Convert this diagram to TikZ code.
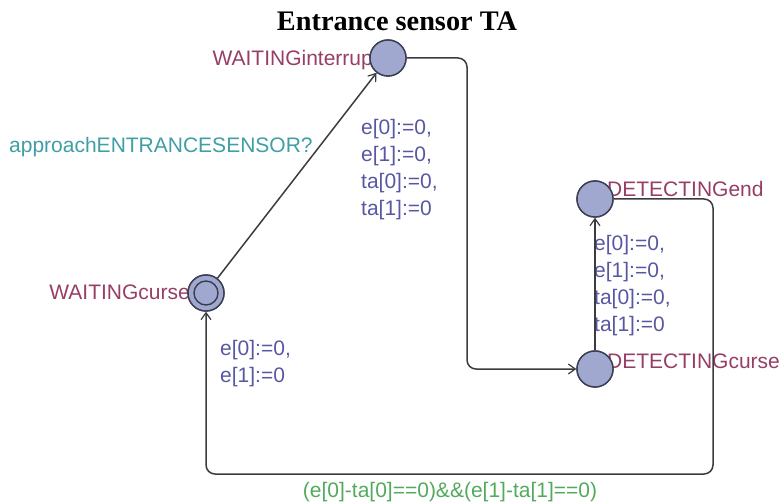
\documentclass[tikz,border=0pt]{standalone}
\usepackage{fontspec}
\setmainfont{Liberation Sans}
\newfontfamily\titlefont{Liberation Serif}
\usetikzlibrary{arrows.meta}
\definecolor{locname}{RGB}{150,62,102}
\definecolor{upd}{RGB}{88,88,162}
\definecolor{syncc}{RGB}{64,158,165}
\definecolor{guardc}{RGB}{82,170,92}
\definecolor{locfill}{RGB}{160,168,208}
\definecolor{locedge}{RGB}{58,62,82}
\definecolor{edgecol}{RGB}{60,60,64}
\begin{document}
\begin{tikzpicture}[x=1pt,y=-1pt,
  loc/.style={circle,draw=locedge,fill=locfill,line width=1.4pt,minimum size=36pt,inner sep=0pt},
  lbl/.style={inner sep=0pt,font=\fontsize{21}{27}\selectfont},
  edge/.style={draw=edgecol,line width=1.5pt,rounded corners=9pt,-{Straight Barb[length=7pt,width=10pt,line width=1.2pt]}}
]
\useasboundingbox (0,0) rectangle (784,502);
\node[anchor=base,inner sep=0pt,font=\titlefont\bfseries\fontsize{28.3}{30}\selectfont] (title) at (397,31) {Entrance sensor TA};

\node[lbl,text=locname,anchor=base east] (nWI) at (373,66) {WAITINGinterrup};
\node[lbl,text=locname,anchor=base west] (nDE) at (607,197) {DETECTINGend};
\node[lbl,text=locname,anchor=base west] (nDC) at (607,368) {DETECTINGcurse};
\node[lbl,text=locname,anchor=base east] (nWC) at (190,300) {WAITINGcurse};
\node[lbl,text=syncc,anchor=base west] (sync) at (9,153) {approachENTRANCESENSOR?};
\node[lbl,text=upd,anchor=base west,align=left] (u1) at (361,216) {e[0]:=0,\\e[1]:=0,\\ta[0]:=0,\\ta[1]:=0};
\node[lbl,text=upd,anchor=base west,align=left] (u2) at (594,331) {e[0]:=0,\\e[1]:=0,\\ta[0]:=0,\\ta[1]:=0};
\node[lbl,text=upd,anchor=base west,align=left] (u3) at (220,382) {e[0]:=0,\\e[1]:=0};
\node[lbl,text=guardc,anchor=base] (g) at (450,497) {(e[0]-ta[0]==0)\&\&(e[1]-ta[1]==0)};

\coordinate (WIp) at (388,58);
\coordinate (WCp) at (206,293);
\coordinate (DEp) at (595,199);
\coordinate (DCp) at (595,369);
\coordinate (b1) at (467,58);
\coordinate (b2) at (467,369);
\coordinate (c1) at (713,199);
\coordinate (c2) at (713,474);
\coordinate (c3) at (206,474);

\path (WIp) node[loc] (WI) {};
\path (WCp) node[loc] (WC) {};
\path (DEp) node[loc] (DE) {};
\path (DCp) node[loc] (DC) {};

\draw[edge] (WC) -- (WI);
\draw[edge] (WI.east) -- (b1) -- (b2) -- (DC.west);
\draw[edge] (DC) -- (DE);
\draw[edge] (DE.east) -- (c1) -- (c2) -- (c3) -- (WC.south);

\node[loc] (WI2) at (WIp) {};
\node[loc] (WC2) at (WCp) {};
\node[loc,minimum size=24pt] (WCi) at (WCp) {};
\node[loc] (DE2) at (DEp) {};
\node[loc] (DC2) at (DCp) {};
\end{tikzpicture}
\end{document}
